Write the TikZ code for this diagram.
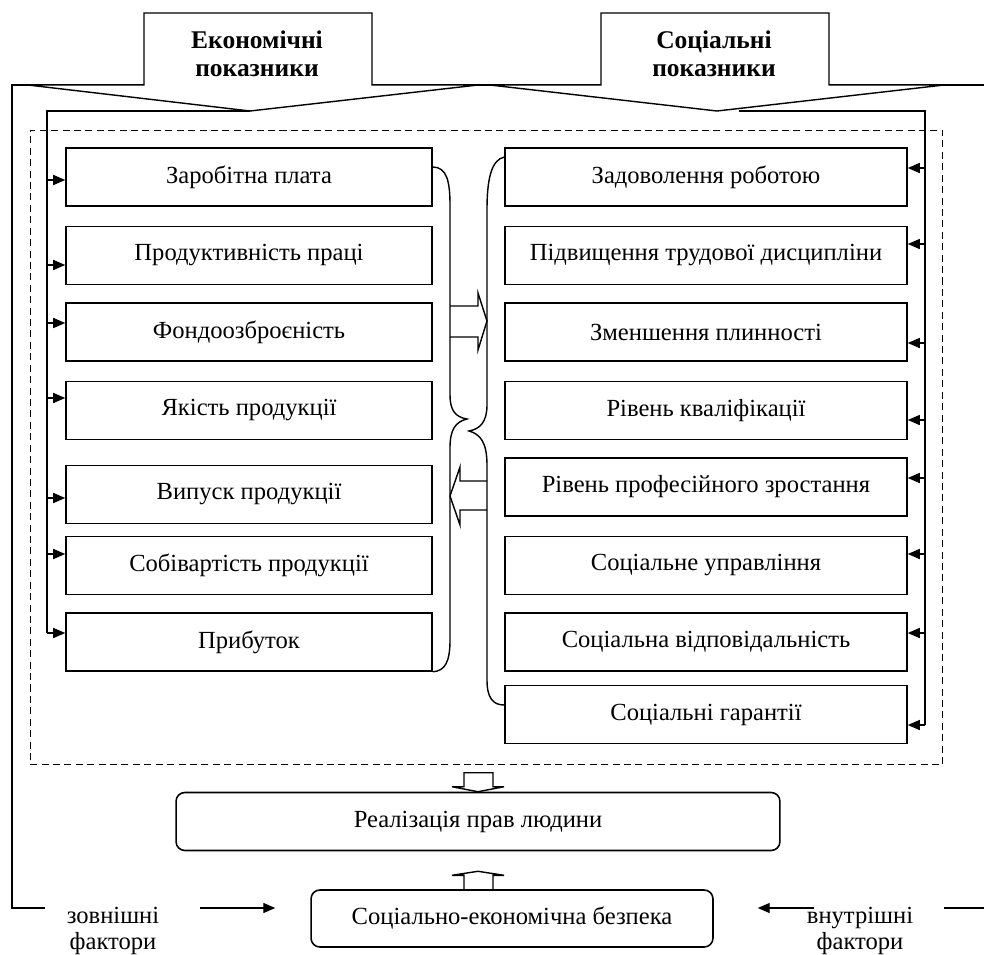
\documentclass[tikz,border=0pt]{standalone}
\usepackage{fontspec}
\setmainfont{Liberation Serif}
\usetikzlibrary{arrows.meta,calc}

\begin{document}
\begin{tikzpicture}[
  x=0.02cm, y=-0.02cm,
  font=\fontsize{14pt}{16.5pt}\selectfont,
  ecobox/.style={draw,line width=0.9pt,minimum width=7.32cm,minimum height=1.16cm,inner sep=2pt},
  socbox/.style={draw,line width=0.9pt,minimum width=8.04cm,minimum height=1.16cm,inner sep=2pt},
  resbox/.style={draw,line width=0.9pt,rounded corners=5pt,minimum height=1.16cm,inner sep=2pt},
  dashframe/.style={draw,line width=0.6pt,dash pattern=on 4pt off 2.5pt,inner sep=0pt},
  hdr/.style={font=\bfseries\fontsize{14.5pt}{16pt}\selectfont,align=center},
  lbl/.style={font=\fontsize{14pt}{14.5pt}\selectfont,align=center},
  conn/.style={line width=0.8pt},
  arrow/.style={-{Triangle[length=2.4mm,width=2mm]},line width=0.8pt}
]
\fill[white] (0,0) rectangle (984,954);
\path[use as bounding box] (0,0) rectangle (984,954);

% outer frame line and the two headers
\draw[conn] (984,85) -- (12,85) -- (12,908) -- (45,908);
\draw[conn] (944,908) -- (984,908);
\draw[conn,fill=white] (28,85) -- (144,85) -- (144,13) -- (372,13) -- (372,85) -- (478,85) -- (250,111) -- cycle;
\draw[conn,fill=white] (490,85) -- (601,85) -- (601,13) -- (829,13) -- (829,85) -- (944,85) -- (717,111) -- cycle;
\node[hdr] (hEco) at (257,54) {Економічні\\показники};
\node[hdr] (hSoc) at (714,54) {Соціальні\\показники};

% dashed area
\node[dashframe,minimum width=18.26cm,minimum height=12.7cm] (frame) at (486.5,447.5) {};

% economic indicators
\node[ecobox] (e1) at (249,177) {Заробітна плата};
\node[ecobox] (e2) at (249,255.5) {Продуктивність праці};
\node[ecobox] (e3) at (249,332) {Фондоозброєність};
\node[ecobox] (e4) at (249,410.5) {Якість продукції};
\node[ecobox] (e5) at (249,494.5) {Випуск продукції};
\node[ecobox] (e6) at (249,565.5) {Собівартість продукції};
\node[ecobox] (e7) at (249,642) {Прибуток};

% social indicators
\node[socbox] (s1) at (706,177) {Задоволення роботою};
\node[socbox] (s2) at (706,255.5) {Підвищення трудової дисципліни};
\node[socbox] (s3) at (706,332) {Зменшення плинності};
\node[socbox] (s4) at (706,410.5) {Рівень кваліфікації};
\node[socbox] (s5) at (706,487) {Рівень професійного зростання};
\node[socbox] (s6) at (706,565.5) {Соціальне управління};
\node[socbox] (s7) at (706,642) {Соціальна відповідальність};
\node[socbox] (s8) at (706,714.5) {Соціальні гарантії};

% bottom boxes
\node[resbox,minimum width=12.08cm] (real) at (478,821.5) {Реалізація прав людини};
\node[resbox,minimum width=8.04cm,minimum height=1.14cm] (sec) at (512,918.5) {Соціально-економічна безпека};

% trunks with arrows
\coordinate (ecoTip) at (250,111);
\coordinate (ecoTrunk) at (47,111);
\draw[conn] (ecoTip) -- (ecoTrunk) -- (ecoTrunk |- 0,633);
\foreach \n/\y in {1/180,2/265,3/323,4/398,5/498,6/554,7/633}
  \draw[arrow] (ecoTrunk |- 0,\y) -- (e\n.west |- 0,\y);

\coordinate (socTip) at (739,111);
\coordinate (socTrunk) at (925,111);
\draw[conn] (socTip) -- (socTrunk) -- (socTrunk |- 0,725);
\foreach \n/\y in {1/168,2/244,3/343,4/420,5/478,6/554,7/633,8/725}
  \draw[arrow] (socTrunk |- 0,\y) -- (s\n.east |- 0,\y);

% braces
\draw[conn] (e1.east |- 0,167) .. controls (447,167) and (450,182) .. (450,205) -- (450,395)
  .. controls (450,410) and (455,417) .. (467,419) .. controls (455,422) and (450,430) .. (450,448)
  -- (450,640) .. controls (450,662) and (445,671) .. (e7.south east);
\draw[conn] (s1.west |- 0,157) .. controls (491,160) and (487,180) .. (487,210) -- (487,405)
  .. controls (487,422) and (480,429) .. (469,431) .. controls (480,434) and (487,442) .. (487,465)
  -- (487,680) .. controls (487,698) and (493,705) .. (s8.west |- 0,705);

% hollow arrows
\draw[conn] (450,306) -- (478,306) -- (478,293) -- (487,321) -- (478,350) -- (478,337) -- (450,337);
\draw[conn] (487,481) -- (460,481) -- (460,467) -- (450,496) -- (460,525) -- (460,510) -- (487,510);
\draw[conn,fill=white,shift={(real.north)}] (-14,-19) -- (15,-19) -- (15,-5) -- (26,-5) -- (0,0)
  -- (-26,-5) -- (-14,-5) -- cycle;
\draw[conn,shift={(real.south)}] (-14,39.5) -- (-14,24) -- (-26,24) -- (0,20) -- (26,24) -- (15,24) -- (15,39.5);

% factors
\node[lbl] (zovn) at (113,931) {зовнішні\\фактори};
\node[lbl] (vnut) at (860,931) {внутрішні\\фактори};
\coordinate (zA) at (200,908);
\coordinate (vA) at (814,908);
\draw[arrow,shorten >=0.7cm] (zA) -- (sec.west |- zA);
\draw[arrow,shorten >=0.88cm] (vA) -- (sec.east |- vA);
\end{tikzpicture}
\end{document}
